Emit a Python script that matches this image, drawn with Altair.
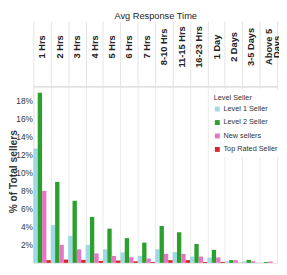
import altair as alt
import pandas as pd

categories = ["1 Hrs", "2 Hrs", "3 Hrs", "4 Hrs", "5 Hrs", "6 Hrs", "7 Hrs",
              "8-10 Hrs", "11-15 Hrs", "16-23 Hrs", "1 Day", "2 Days",
              "3-5 Days", "Above 5 Days"]
series = ["Level 1 Seller", "Level 2 Seller", "New sellers", "Top Rated Seller"]
level1 = [12.7, 4.2, 3.0, 2.0, 1.5, 1.16, 0.78, 1.5, 1.2, 0.7, 0.6, 0.18, 0.18, 0.05]
level2 = [18.9, 9.0, 6.9, 5.1, 3.8, 2.75, 2.25, 4.1, 3.4, 2.1, 1.45, 0.3, 0.33, 0.1]
new_sellers = [8.0, 2.0, 1.5, 1.05, 0.77, 0.63, 0.48, 1.0, 1.0, 0.7, 0.6, 0.3, 0.18, 0.15]
top_rated = [0.3, 0.37, 0.33, 0.22, 0.26, 0.18, 0.1, 0.3, 0.3, 0.1, 0.1, 0.02, 0.01, 0.0]
colors = ["#9edae5", "#2ca02c", "#e377c2", "#d62728"]
y_ticks = [2, 4, 6, 8, 10, 12, 14, 16, 18]

rows = []
for s, vals in zip(series, [level1, level2, new_sellers, top_rated]):
    for c, v in zip(categories, vals):
        rows.append({"cat": c, "series": s, "pct": v})
df = pd.DataFrame(rows)

FONT = "Liberation Sans, Arial, sans-serif"

chart = alt.Chart(df).mark_bar().encode(
    x=alt.X(
        "cat:N", sort=categories,
        scale=alt.Scale(paddingInner=0, paddingOuter=0),
        axis=alt.Axis(
            orient="top", title="Avg Response Time",
            labelAngle=270, labelAlign="center", labelBaseline="middle",
            labelFont=FONT, labelFontWeight="bold", labelFontSize=9.5,
            labelColor="#222222", labelPadding=-26, labelLineHeight=8,
            labelOverlap=False,
            labelExpr="datum.label == 'Above 5 Days' ? ['Above 5', 'Days'] : datum.label",
            tickSize=67, tickBand="extent", tickColor="#e3e3e3",
            grid=True, gridColor="#ebebeb", domainColor="#d9d9d9",
            titleFont=FONT, titleFontSize=9.5, titleFontWeight="normal",
            titleColor="#222222", titleX=125, titleY=-70,
            titleAlign="center", titleBaseline="alphabetic",
        ),
    ),
    xOffset=alt.XOffset("series:N", sort=series,
                        scale=alt.Scale(paddingInner=0, paddingOuter=0)),
    y=alt.Y(
        "pct:Q",
        scale=alt.Scale(domain=[0, 19.6], nice=False),
        axis=alt.Axis(
            values=y_ticks, labelExpr="datum.value + '%'",
            labelFont=FONT, labelFontSize=8.5, labelColor="#333333",
            labelPadding=1, ticks=False, domain=False, grid=False,
            title="% of Total sellers", titleFont=FONT, titleFontWeight="bold",
            titleFontSize=10.5, titleColor="#333333", titleAngle=270,
            titleX=-17.5, titleY=87, titleAlign="center",
            titleBaseline="alphabetic",
        ),
    ),
    color=alt.Color(
        "series:N", sort=series,
        scale=alt.Scale(domain=series, range=colors),
        legend=alt.Legend(
            orient="none", legendX=181, legendY=3.5, padding=4,
            fillColor="white", title="Level Seller",
            titleFont=FONT, titleFontSize=7.5, titleFontWeight="normal",
            titleColor="#333333", titlePadding=4.5,
            labelFont=FONT, labelFontSize=7.5, labelColor="#333333",
            labelOffset=2.5, symbolType="square", symbolSize=25,
            symbolStrokeWidth=0, rowPadding=4.8,
        ),
    ),
).properties(
    width=250, height=181, autosize="none",
    padding={"left": 26, "top": 77, "right": 2, "bottom": 9},
).configure_view(stroke="#e3e3e3")

chart.save("out.html", embed_options={"renderer": "svg", "actions": False})
